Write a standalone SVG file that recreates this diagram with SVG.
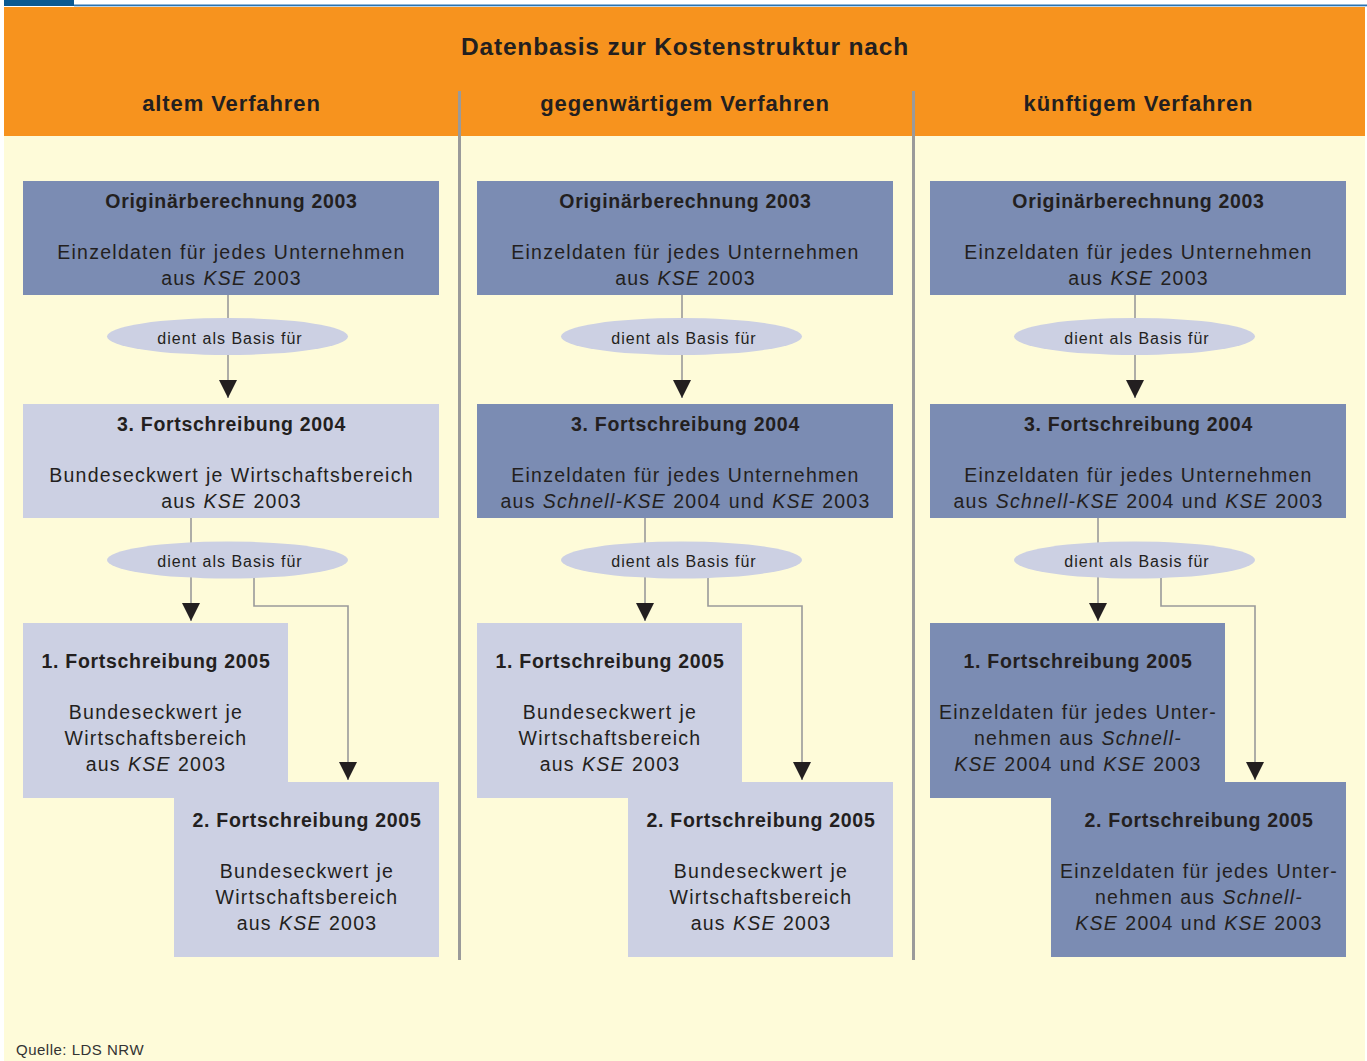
<svg xmlns="http://www.w3.org/2000/svg" width="1367" height="1061" viewBox="0 0 1367 1061">
  <style>
    text { font-family: "Liberation Sans", Arial, sans-serif; fill: #231F20; text-anchor: middle; }
    .title { font-size: 24.5px; font-weight: bold; letter-spacing: 0.8px; }
    .head { font-size: 22px; font-weight: bold; letter-spacing: 0.9px; }
    .bt { font-size: 19.5px; font-weight: bold; letter-spacing: 0.7px; }
    .bd { font-size: 19.5px; letter-spacing: 1.25px; word-spacing: 0.5px; }
    .el { font-size: 16px; letter-spacing: 1px; }
    .src { font-size: 15px; text-anchor: start; fill: #333; letter-spacing: 0.5px; }
    .it { font-style: italic; }
    .dark { fill: #7B8CB3; }
    .light { fill: #CCD0E3; }
    .oval { fill: #CCD0E3; }
    .div { stroke: #9A9A9A; stroke-width: 3; }
    .conn { fill: none; stroke: #9A9A9A; stroke-width: 1.6; marker-end: url(#arr); }
  </style>
  <defs>
    <marker id="arr" markerUnits="userSpaceOnUse" markerWidth="18" markerHeight="18" refX="8" refY="16" orient="0" viewBox="0 0 16 16" overflow="visible">
      <path d="M0,0 L16,0 L8,16 Z" fill="#231F20"/>
    </marker>
  </defs>

  <!-- page background and header band -->
  <rect x="0" y="0" width="1367" height="1061" fill="#FFFFFF"/>
  <rect x="4" y="136" width="1361" height="925" fill="#FEFBD9"/>
  <rect x="4" y="7" width="1361" height="129" fill="#F7931E"/>
  <rect x="4" y="0" width="70" height="6" fill="#0B5A93"/>
  <rect x="74" y="4.5" width="1293" height="1.8" fill="#2A73B0"/>

  <text class="title" x="685" y="55">Datenbasis zur Kostenstruktur nach</text>
  <text class="head" x="231.5" y="111">altem Verfahren</text>
  <text class="head" x="685" y="111">gegenwärtigem Verfahren</text>
  <text class="head" x="1138.5" y="111">künftigem Verfahren</text>

  <!-- column dividers -->
  <line class="div" x1="459.5" y1="91" x2="459.5" y2="960"/>
  <line class="div" x1="913.5" y1="91" x2="913.5" y2="960"/>

  <!-- connectors (the ovals are drawn over them) -->
  <g id="connectors">
    <line class="conn" x1="228" y1="295" x2="228" y2="398"/>
    <line class="conn" x1="191" y1="518" x2="191" y2="621"/>
    <polyline class="conn" points="254,578 254,606 348,606 348,780"/>

    <line class="conn" x1="682" y1="295" x2="682" y2="398"/>
    <line class="conn" x1="645" y1="518" x2="645" y2="621"/>
    <polyline class="conn" points="708,578 708,606 802,606 802,780"/>

    <line class="conn" x1="1135" y1="295" x2="1135" y2="398"/>
    <line class="conn" x1="1098" y1="518" x2="1098" y2="621"/>
    <polyline class="conn" points="1161,578 1161,606 1255,606 1255,780"/>
  </g>

  <!-- column 1: altem Verfahren -->
  <g id="c1-orig">
    <rect class="dark" x="23" y="181" width="416" height="114"/>
    <text class="bt" x="231.5" y="208">Originärberechnung 2003</text>
    <text class="bd" x="231.5" y="259">Einzeldaten für jedes Unternehmen</text>
    <text class="bd" x="231.5" y="285">aus <tspan class="it">KSE</tspan> 2003</text>
  </g>
  <g id="c1-basis1">
    <ellipse class="oval" cx="227.5" cy="336.5" rx="120.5" ry="18.5"/>
    <text class="el" x="230" y="344">dient als Basis für</text>
  </g>
  <g id="c1-fs2004">
    <rect class="light" x="23" y="404" width="416" height="114"/>
    <text class="bt" x="231.5" y="431">3. Fortschreibung 2004</text>
    <text class="bd" x="231.5" y="482">Bundeseckwert je Wirtschaftsbereich</text>
    <text class="bd" x="231.5" y="508">aus <tspan class="it">KSE</tspan> 2003</text>
  </g>
  <g id="c1-basis2">
    <ellipse class="oval" cx="227.5" cy="560" rx="120.5" ry="18.5"/>
    <text class="el" x="230" y="567">dient als Basis für</text>
  </g>
  <g id="c1-fs1">
    <rect class="light" x="23" y="623" width="265" height="175"/>
    <text class="bt" x="156" y="668">1. Fortschreibung 2005</text>
    <text class="bd" x="156" y="719">Bundeseckwert je</text>
    <text class="bd" x="156" y="745">Wirtschaftsbereich</text>
    <text class="bd" x="156" y="771">aus <tspan class="it">KSE</tspan> 2003</text>
  </g>
  <g id="c1-fs2">
    <rect class="light" x="174" y="782" width="265" height="175"/>
    <text class="bt" x="307" y="827">2. Fortschreibung 2005</text>
    <text class="bd" x="307" y="878">Bundeseckwert je</text>
    <text class="bd" x="307" y="904">Wirtschaftsbereich</text>
    <text class="bd" x="307" y="930">aus <tspan class="it">KSE</tspan> 2003</text>
  </g>

  <!-- column 2: gegenwärtigem Verfahren -->
  <g id="c2-orig">
    <rect class="dark" x="477" y="181" width="416" height="114"/>
    <text class="bt" x="685.5" y="208">Originärberechnung 2003</text>
    <text class="bd" x="685.5" y="259">Einzeldaten für jedes Unternehmen</text>
    <text class="bd" x="685.5" y="285">aus <tspan class="it">KSE</tspan> 2003</text>
  </g>
  <g id="c2-basis1">
    <ellipse class="oval" cx="681.5" cy="336.5" rx="120.5" ry="18.5"/>
    <text class="el" x="684" y="344">dient als Basis für</text>
  </g>
  <g id="c2-fs2004">
    <rect class="dark" x="477" y="404" width="416" height="114"/>
    <text class="bt" x="685.5" y="431">3. Fortschreibung 2004</text>
    <text class="bd" x="685.5" y="482">Einzeldaten für jedes Unternehmen</text>
    <text class="bd" x="685.5" y="508">aus <tspan class="it">Schnell-KSE</tspan> 2004 und <tspan class="it">KSE</tspan> 2003</text>
  </g>
  <g id="c2-basis2">
    <ellipse class="oval" cx="681.5" cy="560" rx="120.5" ry="18.5"/>
    <text class="el" x="684" y="567">dient als Basis für</text>
  </g>
  <g id="c2-fs1">
    <rect class="light" x="477" y="623" width="265" height="175"/>
    <text class="bt" x="610" y="668">1. Fortschreibung 2005</text>
    <text class="bd" x="610" y="719">Bundeseckwert je</text>
    <text class="bd" x="610" y="745">Wirtschaftsbereich</text>
    <text class="bd" x="610" y="771">aus <tspan class="it">KSE</tspan> 2003</text>
  </g>
  <g id="c2-fs2">
    <rect class="light" x="628" y="782" width="265" height="175"/>
    <text class="bt" x="761" y="827">2. Fortschreibung 2005</text>
    <text class="bd" x="761" y="878">Bundeseckwert je</text>
    <text class="bd" x="761" y="904">Wirtschaftsbereich</text>
    <text class="bd" x="761" y="930">aus <tspan class="it">KSE</tspan> 2003</text>
  </g>

  <!-- column 3: künftigem Verfahren -->
  <g id="c3-orig">
    <rect class="dark" x="930" y="181" width="416" height="114"/>
    <text class="bt" x="1138.5" y="208">Originärberechnung 2003</text>
    <text class="bd" x="1138.5" y="259">Einzeldaten für jedes Unternehmen</text>
    <text class="bd" x="1138.5" y="285">aus <tspan class="it">KSE</tspan> 2003</text>
  </g>
  <g id="c3-basis1">
    <ellipse class="oval" cx="1134.5" cy="336.5" rx="120.5" ry="18.5"/>
    <text class="el" x="1137" y="344">dient als Basis für</text>
  </g>
  <g id="c3-fs2004">
    <rect class="dark" x="930" y="404" width="416" height="114"/>
    <text class="bt" x="1138.5" y="431">3. Fortschreibung 2004</text>
    <text class="bd" x="1138.5" y="482">Einzeldaten für jedes Unternehmen</text>
    <text class="bd" x="1138.5" y="508">aus <tspan class="it">Schnell-KSE</tspan> 2004 und <tspan class="it">KSE</tspan> 2003</text>
  </g>
  <g id="c3-basis2">
    <ellipse class="oval" cx="1134.5" cy="560" rx="120.5" ry="18.5"/>
    <text class="el" x="1137" y="567">dient als Basis für</text>
  </g>
  <g id="c3-fs1">
    <rect class="dark" x="930" y="623" width="295" height="175"/>
    <text class="bt" x="1078" y="668">1. Fortschreibung 2005</text>
    <text class="bd" x="1078" y="719">Einzeldaten für jedes Unter-</text>
    <text class="bd" x="1078" y="745">nehmen aus <tspan class="it">Schnell-</tspan></text>
    <text class="bd" x="1078" y="771"><tspan class="it">KSE</tspan> 2004 und <tspan class="it">KSE</tspan> 2003</text>
  </g>
  <g id="c3-fs2">
    <rect class="dark" x="1051" y="782" width="295" height="175"/>
    <text class="bt" x="1199" y="827">2. Fortschreibung 2005</text>
    <text class="bd" x="1199" y="878">Einzeldaten für jedes Unter-</text>
    <text class="bd" x="1199" y="904">nehmen aus <tspan class="it">Schnell-</tspan></text>
    <text class="bd" x="1199" y="930"><tspan class="it">KSE</tspan> 2004 und <tspan class="it">KSE</tspan> 2003</text>
  </g>

  <text class="src" x="16" y="1055">Quelle: LDS NRW</text>
</svg>
